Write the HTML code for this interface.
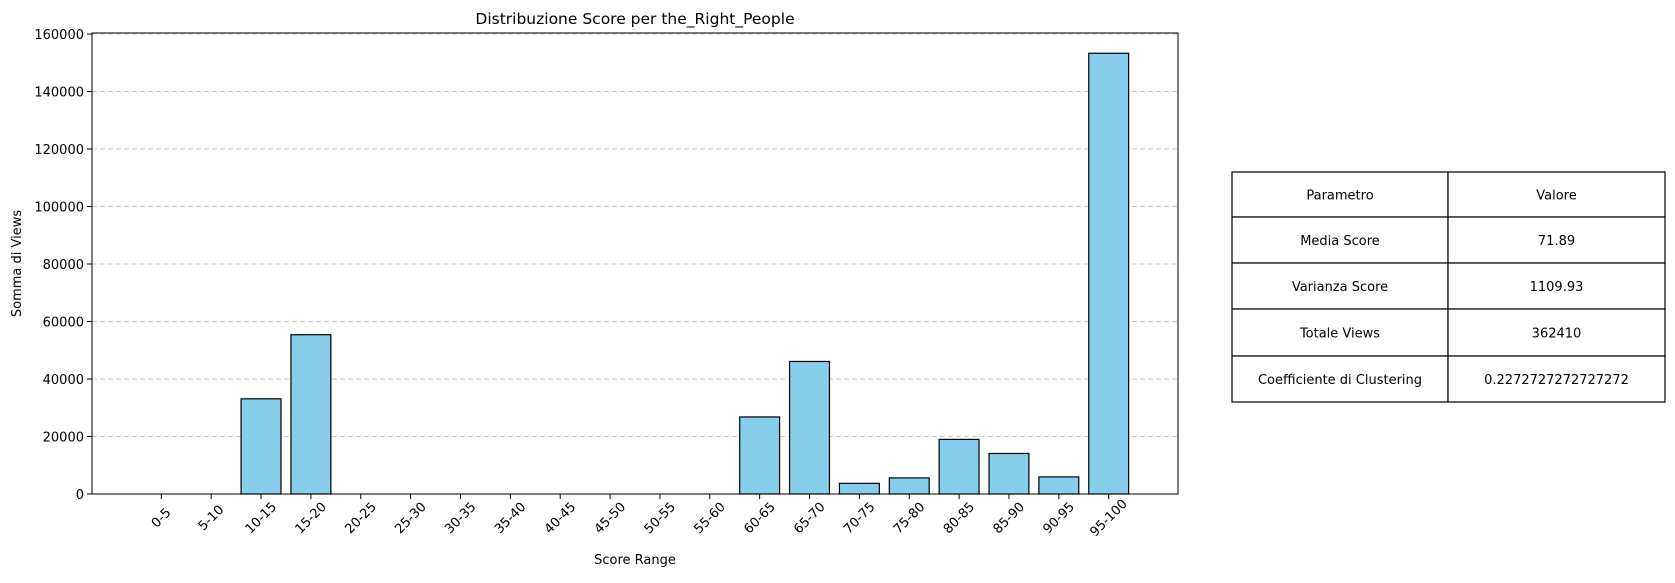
<!DOCTYPE html>
<html><head><meta charset="utf-8"><style>
body{margin:0;background:#fff;}
svg text{font-family:"DejaVu Sans","Liberation Sans",sans-serif;font-size:13px;fill:#000;}
</style></head><body>
<svg width="1675" height="578">
<g id="plot"></g>
<g id="tbl"></g>
</svg>
<script>
const categories=["0-5","5-10","10-15","15-20","20-25","25-30","30-35","35-40","40-45","45-50","50-55","55-60","60-65","65-70","70-75","75-80","80-85","85-90","90-95","95-100"];
const views=[0,0,33100,55400,0,0,0,0,0,0,0,0,26800,46100,3700,5600,19000,14100,5950,153300];
const yTicks=[0,20000,40000,60000,80000,100000,120000,140000,160000];
const tableRows=[["Parametro","Valore"],["Media Score","71.89"],["Varianza Score","1109.93"],["Totale Views","362410"],["Coefficiente di Clustering","0.2272727272727272"]];
const NS="http://www.w3.org/2000/svg";
const L=92,R=1178,T=33,B=494;
const step=(R-L)/21.78;
const xs=i=>L+(i+1.39)*step;
const ys=v=>B-(v/160000)*(B-34);
function mk(tag,attrs,parent,txt){const e=document.createElementNS(NS,tag);for(const k in attrs)e.setAttribute(k,attrs[k]);if(txt!==undefined)e.textContent=txt;parent.appendChild(e);return e;}
const p=document.getElementById('plot');
yTicks.forEach(t=>{
 const y=ys(t);
 if(t>0){const g=mk('line',{x1:L,x2:R,y1:y,y2:y,stroke:'#c8c8c8','stroke-dasharray':'5,3'},p);
 
 }
 mk('line',{x1:L-5,x2:L,y1:y,y2:y,stroke:'#000'},p);
 const tx=mk('text',{x:L-8,y:y+5,'text-anchor':'end'},p,String(t));
 
 
});
categories.forEach((c,i)=>{
 const x=xs(i),y=ys(views[i]);
 const r=mk('rect',{x:x-0.4*step,y:y,width:0.8*step,height:B-y,fill:'#87ceeb',stroke:'#000','stroke-width':1.2},p);
 
 
 mk('line',{x1:x,x2:x,y1:B,y2:B+5,stroke:'#000'},p);
 const cy=B+24;
 const tx=mk('text',{x:x,y:cy+4,'text-anchor':'middle',transform:`rotate(-45 ${x} ${cy})`},p,c);
 
 
});
mk('rect',{x:L,y:T,width:R-L,height:B-T,fill:'none',stroke:'#000','stroke-width':1},p);
const ti=mk('text',{x:(L+R)/2,y:24,'text-anchor':'middle',style:'font-size:15.5px'},p,'Distribuzione Score per the_Right_People');


const xl=mk('text',{x:(L+R)/2,y:564,'text-anchor':'middle'},p,'Score Range');


const yl=mk('text',{x:21,y:(T+B)/2,'text-anchor':'middle',transform:`rotate(-90 21 ${(T+B)/2})`},p,'Somma di Views');


const tb=document.getElementById('tbl');
const TX=[1232,1448,1665],TY=[172,217,263,309,356,402];
tableRows.forEach((row,ri)=>{
 row.forEach((cell,ci)=>{
  const r=mk('rect',{x:TX[ci],y:TY[ri],width:TX[ci+1]-TX[ci],height:TY[ri+1]-TY[ri],fill:'#fff',stroke:'#000','stroke-width':1.2},tb);
  
  
  const t=mk('text',{x:(TX[ci]+TX[ci+1])/2,y:(TY[ri]+TY[ri+1])/2+5,'text-anchor':'middle'},tb,cell);
  
  
 });
});
</script>
</body></html>
